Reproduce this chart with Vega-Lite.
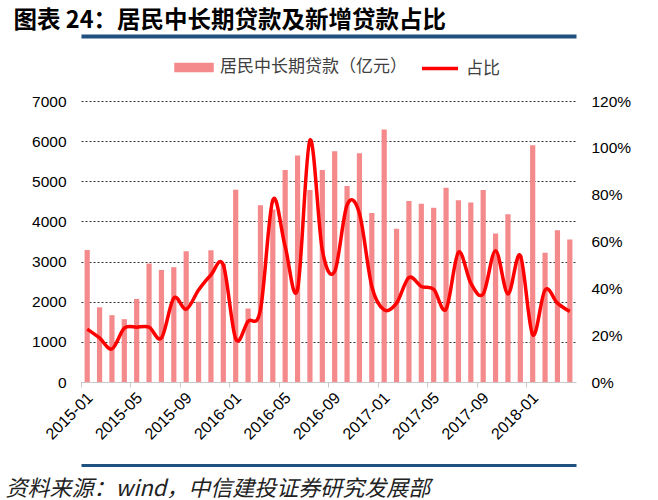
{
  "$schema": "https://vega.github.io/schema/vega-lite/v6.json",
  "width": 495,
  "height": 281,
  "autosize": {"type": "none"},
  "padding": {"left": 81, "top": 101, "right": 82, "bottom": 118},
  "background": "white",
  "config": {"view": {"stroke": null}, "font": "Liberation Sans"},
  "data": {
    "values": [
      {"month": "2015-01", "loans": 3290, "ratio": 0.226},
      {"month": "2015-02", "loans": 1860, "ratio": 0.188},
      {"month": "2015-03", "loans": 1665, "ratio": 0.141},
      {"month": "2015-04", "loans": 1565, "ratio": 0.230},
      {"month": "2015-05", "loans": 2070, "ratio": 0.234},
      {"month": "2015-06", "loans": 2950, "ratio": 0.234},
      {"month": "2015-07", "loans": 2790, "ratio": 0.188},
      {"month": "2015-08", "loans": 2860, "ratio": 0.358},
      {"month": "2015-09", "loans": 3260, "ratio": 0.311},
      {"month": "2015-10", "loans": 2000, "ratio": 0.393},
      {"month": "2015-11", "loans": 3280, "ratio": 0.457},
      {"month": "2015-12", "loans": 2950, "ratio": 0.500},
      {"month": "2016-01", "loans": 4790, "ratio": 0.185},
      {"month": "2016-02", "loans": 1830, "ratio": 0.259},
      {"month": "2016-03", "loans": 4400, "ratio": 0.308},
      {"month": "2016-04", "loans": 4300, "ratio": 0.777},
      {"month": "2016-05", "loans": 5280, "ratio": 0.578},
      {"month": "2016-06", "loans": 5640, "ratio": 0.396},
      {"month": "2016-07", "loans": 4780, "ratio": 1.033},
      {"month": "2016-08", "loans": 5280, "ratio": 0.564},
      {"month": "2016-09", "loans": 5750, "ratio": 0.472},
      {"month": "2016-10", "loans": 4880, "ratio": 0.756},
      {"month": "2016-11", "loans": 5700, "ratio": 0.720},
      {"month": "2016-12", "loans": 4210, "ratio": 0.408},
      {"month": "2017-01", "loans": 6290, "ratio": 0.308},
      {"month": "2017-02", "loans": 3820, "ratio": 0.337},
      {"month": "2017-03", "loans": 4510, "ratio": 0.446},
      {"month": "2017-04", "loans": 4440, "ratio": 0.408},
      {"month": "2017-05", "loans": 4340, "ratio": 0.396},
      {"month": "2017-06", "loans": 4840, "ratio": 0.311},
      {"month": "2017-07", "loans": 4530, "ratio": 0.554},
      {"month": "2017-08", "loans": 4470, "ratio": 0.422},
      {"month": "2017-09", "loans": 4780, "ratio": 0.376},
      {"month": "2017-10", "loans": 3700, "ratio": 0.561},
      {"month": "2017-11", "loans": 4180, "ratio": 0.376},
      {"month": "2017-12", "loans": 3150, "ratio": 0.540},
      {"month": "2018-01", "loans": 5900, "ratio": 0.202},
      {"month": "2018-02", "loans": 3220, "ratio": 0.393},
      {"month": "2018-03", "loans": 3780, "ratio": 0.337},
      {"month": "2018-04", "loans": 3550, "ratio": 0.301}
    ]
  },
  "layer": [
    {
      "mark": {"type": "bar", "width": {"band": 0.42}},
      "encoding": {
        "x": {
          "field": "month", "type": "ordinal",
          "scale": {"paddingInner": 0, "paddingOuter": 0},
          "axis": {
            "title": null,
            "values": ["2015-01","2015-05","2015-09","2016-01","2016-05","2016-09","2017-01","2017-05","2017-09","2018-01"],
            "bandPosition": 0,
            "labelOffset": 3,
            "labelAngle": -45,
            "labelAlign": "right",
            "labelBaseline": "middle",
            "labelFontSize": 16,
            "labelColor": "#000000",
            "labelFont": "Liberation Sans",
            "labelPadding": 8,
            "labelLimit": 0,
            "domainColor": "#C8C8C8",
            "tickColor": "#C8C8C8",
            "tickSize": 5,
            "grid": false
          }
        },
        "y": {
          "field": "loans", "type": "quantitative",
          "scale": {"domain": [0, 7000], "nice": false},
          "axis": {
            "title": null,
            "values": [0, 1000, 2000, 3000, 4000, 5000, 6000, 7000],
            "format": "d",
            "labelFontSize": 15.5,
            "labelColor": "#000000",
            "labelPadding": 15,
            "domain": false,
            "ticks": false,
            "grid": true,
            "gridColor": "#333333",
            "gridDash": [2, 2],
            "gridWidth": 1
          }
        },
        "color": {
          "datum": "居民中长期贷款（亿元）",
          "scale": {"domain": ["居民中长期贷款（亿元）", "占比"], "range": ["#F58A8C", "#FF0000"]},
          "legend": {
            "title": null,
            "orient": "none",
            "direction": "horizontal",
            "legendX": 93,
            "legendY": -54,
            "padding": 0,
            "symbolSize": 1296,
            "labelFont": "Noto Sans CJK SC",
            "labelFontSize": 17,
            "labelColor": "#404040",
            "labelOffset": 6,
            "labelLimit": 0,
            "columnPadding": 8,
            "encode": {
              "symbols": {
                "update": {
                  "shape": {"signal": "datum.value === '占比' ? 'M-1,0H1' : 'M-1,-0.17H1V0.17H-1Z'"},
                  "fill": {"signal": "datum.value === '占比' ? 'transparent' : '#F58A8C'"},
                  "stroke": {"signal": "datum.value === '占比' ? '#FF0000' : 'transparent'"},
                  "strokeWidth": {"value": 3.5},
                  "opacity": {"value": 1}
                }
              }
            }
          }
        }
      }
    },
    {
      "mark": {"type": "line", "interpolate": "cardinal", "tension": 0, "strokeWidth": 3.5},
      "encoding": {
        "x": {
          "field": "month", "type": "ordinal",
          "axis": {
            "orient": "top",
            "offset": 65,
            "labels": false,
            "ticks": false,
            "grid": false,
            "domainColor": "#1F5080",
            "domainWidth": 4,
            "title": "图表 24：居民中长期贷款及新增贷款占比",
            "titleFont": "Noto Sans CJK SC",
            "titleFontSize": 23.5,
            "titleFontWeight": "bold",
            "titleColor": "#000000",
            "titleAnchor": "start",
            "titleAlign": "left",
            "titleBaseline": "middle",
            "titleX": -68,
            "titleY": -16
          }
        },
        "y": {
          "field": "ratio", "type": "quantitative",
          "scale": {"domain": [0, 1.2], "nice": false},
          "axis": {
            "orient": "right",
            "title": null,
            "values": [0, 0.2, 0.4, 0.6, 0.8, 1.0, 1.2],
            "format": ".0%",
            "labelFontSize": 15.5,
            "labelColor": "#000000",
            "labelPadding": 15,
            "domain": false,
            "ticks": false,
            "grid": false
          }
        },
        "color": {"datum": "占比"}
      }
    },
    {
      "mark": {"type": "point", "opacity": 0},
      "encoding": {
        "x": {
          "field": "month", "type": "ordinal",
          "axis": {
            "orient": "bottom",
            "offset": 83,
            "labels": false,
            "ticks": false,
            "grid": false,
            "domainColor": "#1F5080",
            "domainWidth": 3,
            "title": "资料来源：wind，中信建投证券研究发展部",
            "titleFont": "Noto Sans CJK SC",
            "titleFontSize": 22,
            "titleFontWeight": "normal",
            "titleFontStyle": "italic",
            "titleColor": "#222222",
            "titleAnchor": "start",
            "titleAlign": "left",
            "titleBaseline": "middle",
            "titleX": -76,
            "titleY": 23
          }
        }
      }
    }
  ],
  "resolve": {"scale": {"y": "independent"}, "axis": {"x": "independent", "y": "independent"}}
}
